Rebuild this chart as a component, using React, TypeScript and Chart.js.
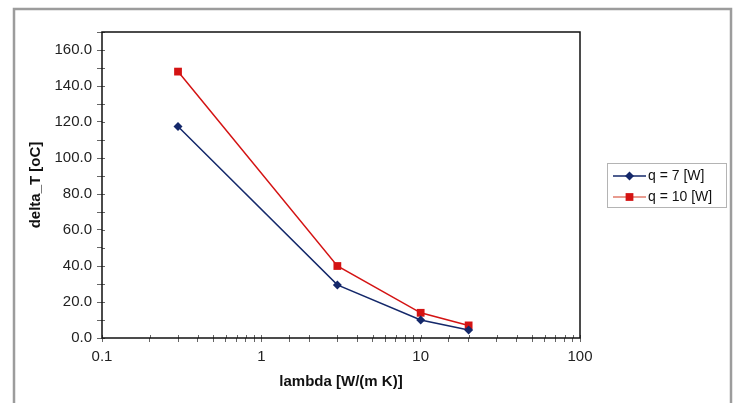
import React, { useEffect, useRef } from "react";
import { Chart, registerables } from "chart.js";

Chart.register(...registerables);

const lambdaValues = [0.3, 3, 10, 20];
const q7Values = [117.5, 29.5, 10, 4.5];
const q10Values = [148, 40, 14, 7];
const seriesNames = ["q = 7 [W]", "q = 10 [W]"];
const xTickLabels = ["0.1", "1", "10", "100"];
const xTickValues = [0.1, 1, 10, 100];
const yTickLabelStep = 20;

const NAVY = "#14286a";
const RED = "#d41313";
const FONT = "'Liberation Sans', Arial, Helvetica, sans-serif";
const TICK_COLOR = "#666666";

function drawMarker(ctx: CanvasRenderingContext2D, style: string, x: number, y: number, r: number, color: string) {
  ctx.save();
  ctx.fillStyle = color;
  ctx.beginPath();
  if (style === "rectRot") {
    ctx.moveTo(x, y - r);
    ctx.lineTo(x + r, y);
    ctx.lineTo(x, y + r);
    ctx.lineTo(x - r, y);
    ctx.closePath();
  } else {
    const s = r * Math.SQRT1_2;
    ctx.rect(x - s, y - s, 2 * s, 2 * s);
  }
  ctx.fill();
  ctx.restore();
}

const framePlugin = {
  id: "frame",
  beforeDraw(chart: any) {
    const ctx = chart.ctx as CanvasRenderingContext2D;
    ctx.save();
    ctx.fillStyle = "#ffffff";
    ctx.fillRect(0, 0, chart.width, chart.height);
    ctx.strokeStyle = "#9c9c9c";
    ctx.lineWidth = 2.5;
    ctx.strokeRect(14, 9, 717, 420);
    ctx.restore();
  },
  afterDraw(chart: any) {
    const ctx = chart.ctx as CanvasRenderingContext2D;
    const a = chart.chartArea;
    ctx.save();
    // inner halves of the tick marks (ticks cross the axis line)
    ctx.strokeStyle = TICK_COLOR;
    ctx.lineWidth = 1;
    const xs = chart.scales.x;
    xs.ticks.forEach((t: any) => {
      const px = Math.round(xs.getPixelForValue(t.value)) + 0.5;
      ctx.beginPath();
      ctx.moveTo(px, a.bottom);
      ctx.lineTo(px, a.bottom - 3);
      ctx.stroke();
    });
    const ys = chart.scales.y;
    ys.ticks.forEach((t: any) => {
      const py = Math.round(ys.getPixelForValue(t.value)) + 0.5;
      ctx.beginPath();
      ctx.moveTo(a.left, py);
      ctx.lineTo(a.left + 3, py);
      ctx.stroke();
    });
    ctx.strokeStyle = "#111111";
    ctx.lineWidth = 1.5;
    ctx.strokeRect(a.left, a.top, a.right - a.left, a.bottom - a.top);
    // legend
    const lx = 607, ly = 163, lw = 119, lh = 44;
    ctx.strokeStyle = "#b4b4b4";
    ctx.lineWidth = 1;
    ctx.strokeRect(lx + 0.5, ly + 0.5, lw, lh);
    const items = chart.data.datasets;
    items.forEach((ds: any, i: number) => {
      const cy = 176 + i * 21;
      ctx.strokeStyle = i === 0 ? ds.borderColor : "#e07a6a";
      ctx.lineWidth = 1.5;
      ctx.beginPath();
      ctx.moveTo(613, cy);
      ctx.lineTo(646, cy);
      ctx.stroke();
      drawMarker(ctx, ds.pointStyle, 629.5, cy, ds.pointRadius, ds.backgroundColor);
      ctx.fillStyle = "#111111";
      ctx.font = `14px ${FONT}`;
      ctx.textBaseline = "middle";
      ctx.textAlign = "left";
      ctx.fillText(ds.label, 648, cy);
    });
    ctx.restore();
  },
};

export default function App() {
  const ref = useRef<HTMLCanvasElement>(null);
  useEffect(() => {
    if (!ref.current) return;
    const chart = new Chart(ref.current, {
      type: "line",
      data: {
        datasets: [
          {
            label: seriesNames[0],
            data: lambdaValues.map((x, i) => ({ x, y: q7Values[i] })),
            borderColor: NAVY,
            backgroundColor: NAVY,
            borderWidth: 1.5,
            pointStyle: "rectRot",
            pointRadius: 4.5,
            pointBorderWidth: 0,
          },
          {
            label: seriesNames[1],
            data: lambdaValues.map((x, i) => ({ x, y: q10Values[i] })),
            borderColor: RED,
            backgroundColor: RED,
            borderWidth: 1.5,
            pointStyle: "rect",
            pointRadius: 5.5,
            pointBorderWidth: 0,
          },
        ],
      },
      options: {
        animation: false,
        responsive: false,
        devicePixelRatio: 1,
        layout: { padding: { top: 32, right: 159, left: 0, bottom: 0 } },
        plugins: { legend: { display: false }, tooltip: { enabled: false } },
        scales: {
          x: {
            type: "logarithmic",
            min: 0.1,
            max: 100,
            afterFit(scale: any) {
              scale.height = 65;
            },
            border: { display: false },
            grid: { drawOnChartArea: false, drawTicks: true, tickLength: 4, color: TICK_COLOR, lineWidth: 1 },
            ticks: {
              autoSkip: false,
              maxRotation: 0,
              padding: 6,
              color: "#222222",
              font: { family: FONT, size: 15 },
              callback(value: any) {
                const v = Number(value);
                const idx = xTickValues.findIndex((t) => Math.abs(Math.log10(v) - Math.log10(t)) < 1e-6);
                return idx >= 0 ? xTickLabels[idx] : "";
              },
            },
            title: {
              display: true,
              text: "lambda [W/(m K)]",
              color: "#111111",
              font: { family: FONT, size: 15, weight: "bold" },
              padding: { top: 0, bottom: 12 },
            },
          },
          y: {
            type: "linear",
            min: 0,
            max: 170,
            afterFit(scale: any) {
              scale.width = 102;
            },
            border: { display: false },
            grid: { drawOnChartArea: false, drawTicks: true, tickLength: 5, color: TICK_COLOR, lineWidth: 1 },
            ticks: {
              stepSize: 10,
              autoSkip: false,
              padding: 5,
              color: "#222222",
              font: { family: FONT, size: 15 },
              callback(value: any) {
                const v = Number(value);
                return v % yTickLabelStep === 0 ? v.toFixed(1) : "";
              },
            },
            title: {
              display: true,
              text: "delta_T [oC]",
              color: "#111111",
              font: { family: FONT, size: 15, weight: "bold" },
              padding: { top: 27, bottom: 0 },
            },
          },
        },
      },
      plugins: [framePlugin],
    } as any);
    return () => chart.destroy();
  }, []);
  return (
    <div style={{ position: "fixed", left: 0, top: 0, width: 739, height: 403 }}>
      <canvas ref={ref} width={739} height={403} style={{ width: 739, height: 403, display: "block" }} />
    </div>
  );
}
